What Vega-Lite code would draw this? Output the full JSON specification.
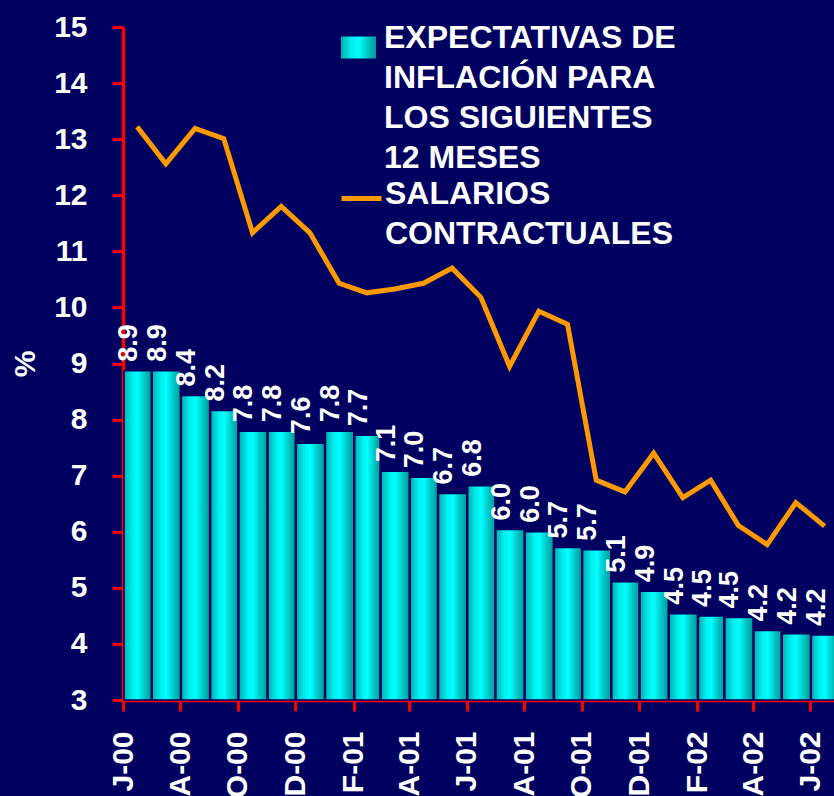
{
  "$schema": "https://vega.github.io/schema/vega-lite/v6.json",
  "autosize": {"type": "none"},
  "width": 711,
  "height": 673,
  "padding": {"left": 123, "top": 27, "right": 0, "bottom": 96},
  "background": "#000060",
  "config": {
    "font": "Liberation Sans",
    "view": {"stroke": null},
    "axis": {"grid": false},
    "style": {"guide-label": {"lineHeight": 40}}
  },
  "data": {
    "values": [
      {"fecha": "2000-06-01", "expectativas": 8.87, "salarios": 13.22},
      {"fecha": "2000-07-01", "expectativas": 8.87, "salarios": 12.56},
      {"fecha": "2000-08-01", "expectativas": 8.43, "salarios": 13.19},
      {"fecha": "2000-09-01", "expectativas": 8.16, "salarios": 13.01},
      {"fecha": "2000-10-01", "expectativas": 7.79, "salarios": 11.33},
      {"fecha": "2000-11-01", "expectativas": 7.79, "salarios": 11.80},
      {"fecha": "2000-12-01", "expectativas": 7.58, "salarios": 11.33},
      {"fecha": "2001-01-01", "expectativas": 7.79, "salarios": 10.43},
      {"fecha": "2001-02-01", "expectativas": 7.72, "salarios": 10.26},
      {"fecha": "2001-03-01", "expectativas": 7.08, "salarios": 10.33},
      {"fecha": "2001-04-01", "expectativas": 6.97, "salarios": 10.43},
      {"fecha": "2001-05-01", "expectativas": 6.68, "salarios": 10.70},
      {"fecha": "2001-06-01", "expectativas": 6.82, "salarios": 10.18},
      {"fecha": "2001-07-01", "expectativas": 6.04, "salarios": 8.95},
      {"fecha": "2001-08-01", "expectativas": 6.00, "salarios": 9.93},
      {"fecha": "2001-09-01", "expectativas": 5.72, "salarios": 9.70},
      {"fecha": "2001-10-01", "expectativas": 5.68, "salarios": 6.92},
      {"fecha": "2001-11-01", "expectativas": 5.11, "salarios": 6.71},
      {"fecha": "2001-12-01", "expectativas": 4.94, "salarios": 7.40},
      {"fecha": "2002-01-01", "expectativas": 4.54, "salarios": 6.61},
      {"fecha": "2002-02-01", "expectativas": 4.50, "salarios": 6.92},
      {"fecha": "2002-03-01", "expectativas": 4.47, "salarios": 6.11},
      {"fecha": "2002-04-01", "expectativas": 4.24, "salarios": 5.77},
      {"fecha": "2002-05-01", "expectativas": 4.18, "salarios": 6.52},
      {"fecha": "2002-06-01", "expectativas": 4.16, "salarios": 6.10}
    ]
  },
  "layer": [
    {
      "mark": {
        "type": "bar",
        "stroke": "#000060",
        "strokeWidth": 1.5,
        "fill": {
          "gradient": "linear",
          "x1": 0, "x2": 1, "y1": 0, "y2": 0,
          "stops": [
            {"offset": 0, "color": "#00b0b0"},
            {"offset": 0.3, "color": "#00eeee"},
            {"offset": 0.5, "color": "#00ffff"},
            {"offset": 0.75, "color": "#00c8c8"},
            {"offset": 1, "color": "#009a9a"}
          ]
        }
      },
      "encoding": {
        "x": {
          "field": "fecha",
          "timeUnit": "utcyearmonth",
          "type": "temporal",
          "scale": {
            "type": "utc",
            "domain": [
              {"year": 2000, "month": 6, "date": 1, "utc": true},
              {"year": 2002, "month": 6, "date": 26, "utc": true}
            ]
          },
          "axis": {
            "title": null,
            "values": [
              {"year": 2000, "month": 6, "date": 1, "utc": true},
              {"year": 2000, "month": 8, "date": 1, "utc": true},
              {"year": 2000, "month": 10, "date": 1, "utc": true},
              {"year": 2000, "month": 12, "date": 1, "utc": true},
              {"year": 2001, "month": 2, "date": 1, "utc": true},
              {"year": 2001, "month": 4, "date": 1, "utc": true},
              {"year": 2001, "month": 6, "date": 1, "utc": true},
              {"year": 2001, "month": 8, "date": 1, "utc": true},
              {"year": 2001, "month": 10, "date": 1, "utc": true},
              {"year": 2001, "month": 12, "date": 1, "utc": true},
              {"year": 2002, "month": 2, "date": 1, "utc": true},
              {"year": 2002, "month": 4, "date": 1, "utc": true},
              {"year": 2002, "month": 6, "date": 1, "utc": true}
            ],
            "labelExpr": "['E','F','M','A','M','J','J','A','S','O','N','D'][utcmonth(datum.value)] + '-' + utcFormat(datum.value, '%y')",
            "labelAngle": 270,
            "labelAlign": "right",
            "labelBaseline": "middle",
            "labelFontSize": 30,
            "labelFontWeight": "bold",
            "labelColor": "#ffffff",
            "labelPadding": 20,
            "labelOverlap": false,
            "labelFlush": false,
            "domainColor": "#ff0000",
            "domainWidth": 3.5,
            "tickColor": "#ff0000",
            "tickWidth": 3,
            "tickSize": 11
          }
        },
        "y": {
          "field": "expectativas",
          "type": "quantitative",
          "scale": {"domain": [3, 15], "zero": false, "nice": false},
          "axis": {
            "title": "%",
            "titleFontSize": 30,
            "titleFontWeight": "bold",
            "titleColor": "#ffffff",
            "titlePadding": 13,
            "values": [3, 4, 5, 6, 7, 8, 9, 10, 11, 12, 13, 14, 15],
            "format": "d",
            "labelFontSize": 30,
            "labelFontWeight": "bold",
            "labelColor": "#ffffff",
            "labelPadding": 25,
            "domainColor": "#ff0000",
            "domainWidth": 3.5,
            "tickColor": "#ff0000",
            "tickWidth": 3,
            "tickSize": 11
          }
        },
        "y2": {"datum": 3},
        "opacity": {
          "datum": "EXPECTATIVAS",
          "type": "ordinal",
          "scale": {"range": [1]},
          "legend": {
            "orient": "none",
            "legendX": 218,
            "legendY": 3,
            "title": null,
            "padding": 0,
            "symbolType": "M-1,-0.63L1,-0.63L1,0.63L-1,0.63Z",
            "symbolSize": 1225,
            "symbolStrokeWidth": 0,
            "labelExpr": "['EXPECTATIVAS DE','INFLACIÓN PARA','LOS SIGUIENTES','12 MESES']",
            "labelFontSize": 32,
            "labelFontWeight": "bold",
            "labelColor": "#ffffff",
            "labelLimit": 0,
            "labelOffset": 8,
            "labelBaseline": "alphabetic",
            "encode": {
              "symbols": {"update": {"fill": {"value": {
                "gradient": "linear",
                "x1": 0, "x2": 1, "y1": 0, "y2": 0,
                "stops": [
                  {"offset": 0, "color": "#00b0b0"},
                  {"offset": 0.3, "color": "#00eeee"},
                  {"offset": 0.6, "color": "#00ffff"},
                  {"offset": 1, "color": "#00c0c0"}
                ]
              }}, "opacity": {"value": 1}, "fillOpacity": {"value": 1}}},
              "labels": {"update": {"lineHeight": {"value": 40}, "dy": {"value": 9}}}
            }
          }
        }
      }
    },
    {
      "mark": {"type": "line", "strokeWidth": 5},
      "encoding": {
        "x": {"field": "fecha", "timeUnit": "utcyearmonth", "type": "temporal", "bandPosition": 0.5},
        "y": {"field": "salarios", "type": "quantitative"},
        "stroke": {
          "datum": "SALARIOS",
          "scale": {"range": ["#ff9900"]},
          "legend": {
            "orient": "none",
            "legendX": 216,
            "legendY": 149,
            "title": null,
            "padding": 0,
            "symbolType": "stroke",
            "symbolSize": 1600,
            "symbolStrokeWidth": 5,
            "labelExpr": "['SALARIOS','CONTRACTUALES']",
            "labelFontSize": 32,
            "labelFontWeight": "bold",
            "labelColor": "#ffffff",
            "labelLimit": 0,
            "labelOffset": 1,
            "labelBaseline": "alphabetic",
            "encode": {"labels": {"update": {"lineHeight": {"value": 40}, "dy": {"value": 5}}}}
          }
        }
      }
    },
    {
      "mark": {"type": "text", "angle": 270, "align": "left", "baseline": "middle", "dx": 9, "dy": -8, "fontSize": 27, "fontWeight": "bold", "color": "#ffffff"},
      "encoding": {
        "x": {"field": "fecha", "timeUnit": "utcyearmonth", "type": "temporal", "bandPosition": 0.5},
        "y": {"field": "expectativas", "type": "quantitative"},
        "text": {"field": "expectativas", "type": "quantitative", "format": ".1f"}
      }
    }
  ]
}
